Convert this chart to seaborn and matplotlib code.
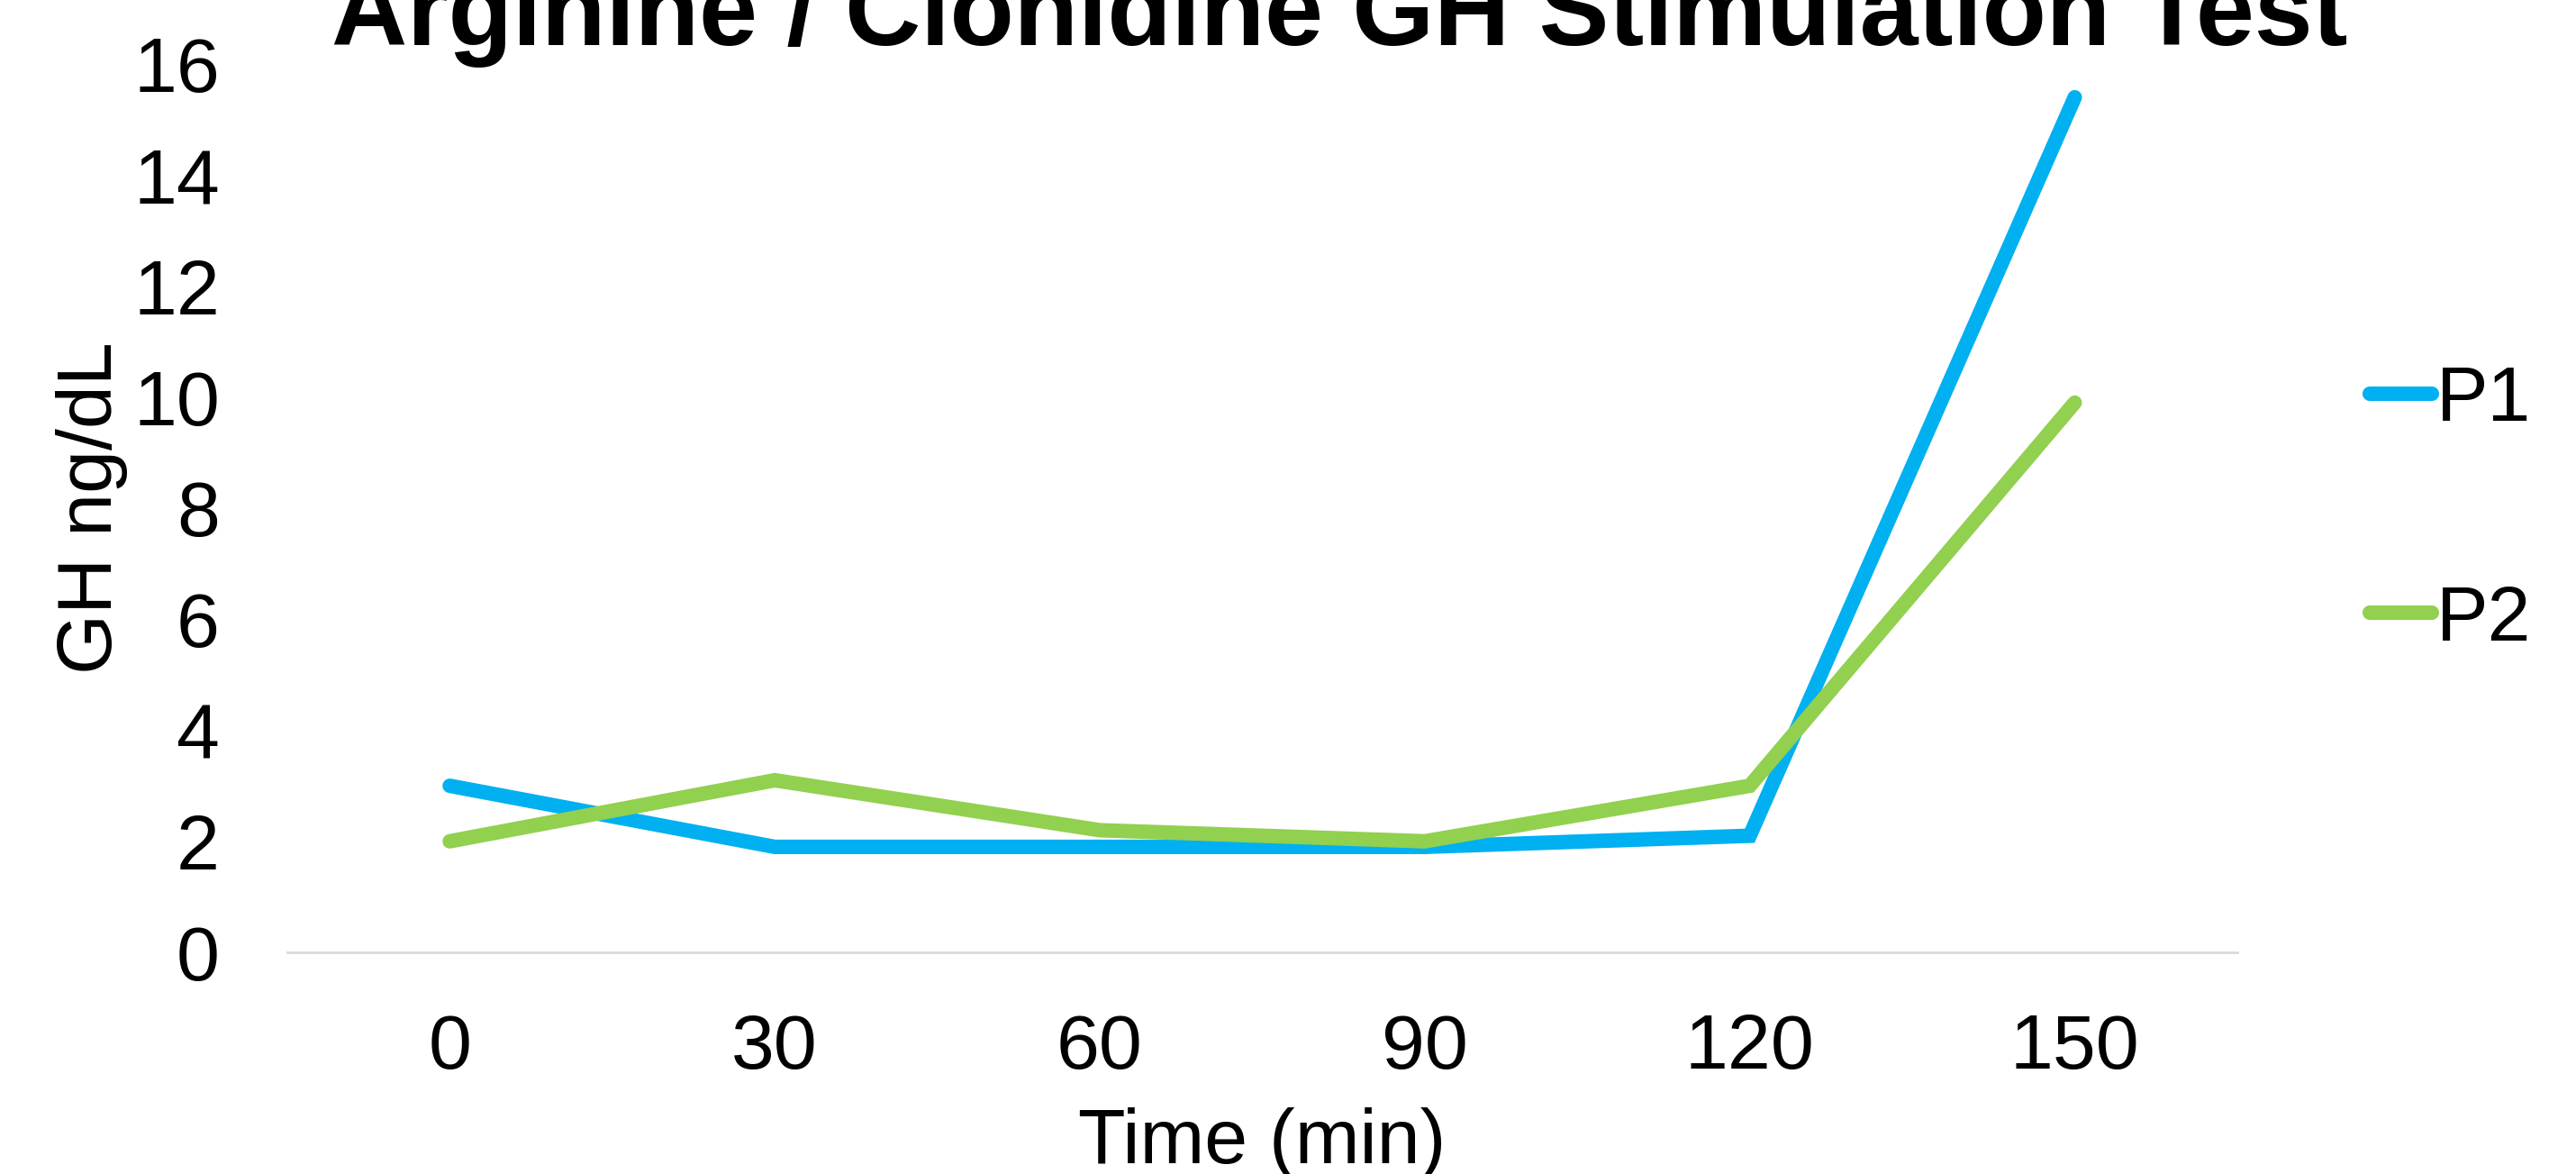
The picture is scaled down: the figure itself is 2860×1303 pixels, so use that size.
import matplotlib
matplotlib.use('Agg')
import matplotlib.pyplot as plt
import seaborn as sns
import pandas as pd

# minutes after stimulation
times = ['0', '30', '60', '90', '120', '150']
p1_gh = [3.0, 1.9, 1.9, 1.9, 2.1, 15.4]
p2_gh = [2.0, 3.1, 2.2, 2.0, 3.0, 9.9]
series_names = ['P1', 'P2']
series_colors = ['#00B0F0', '#92D050']

df = pd.DataFrame({
    'Time': times * 2,
    'GH': p1_gh + p2_gh,
    'Patient': [series_names[0]] * len(times) + [series_names[1]] * len(times),
})

sns.set_style('white')
plt.rcParams['font.family'] = ['Liberation Sans', 'DejaVu Sans']
plt.rcParams['text.color'] = 'black'
plt.rcParams['axes.labelcolor'] = 'black'
plt.rcParams['xtick.color'] = 'black'
plt.rcParams['ytick.color'] = 'black'

fig = plt.figure(figsize=(14.3, 6.515), dpi=200)
ax = fig.add_axes([0.1115, 0.1888, 0.757, 0.7567])

sns.lineplot(data=df, x='Time', y='GH', hue='Patient', palette=series_colors,
             sort=False, linewidth=5.8, ax=ax, legend=False,
             solid_capstyle='round', solid_joinstyle='miter')

ax.set_xlim(-0.5, len(times) - 0.5)
ax.set_ylim(0, 16)
ax.set_yticks(range(0, 17, 2))
ax.tick_params(axis='both', length=0, labelsize=31)
ax.tick_params(axis='y', pad=27)
ax.tick_params(axis='x', pad=24)
for side in ['top', 'right', 'left']:
    ax.spines[side].set_visible(False)
ax.spines['bottom'].set_color('#D9D9D9')
ax.spines['bottom'].set_linewidth(1.0)
ax.grid(False)

ax.set_xlabel('Time (min)', fontsize=31, labelpad=9)
ax.set_ylabel('GH ng/dL', fontsize=31, labelpad=2)

fig.text(0.520, 0.962, 'Arginine / Clonidine GH Stimulation Test',
         ha='center', va='baseline', fontsize=42, fontweight='bold')

handles = ax.get_lines()[:2]
fig.legend(handles, series_names, loc='center left', bbox_to_anchor=(0.92, 0.565),
           frameon=False, fontsize=31, handlelength=0.8, handletextpad=0.05,
           labelspacing=1.9, borderpad=0, borderaxespad=0)

plt.savefig('out.png', dpi=200)
